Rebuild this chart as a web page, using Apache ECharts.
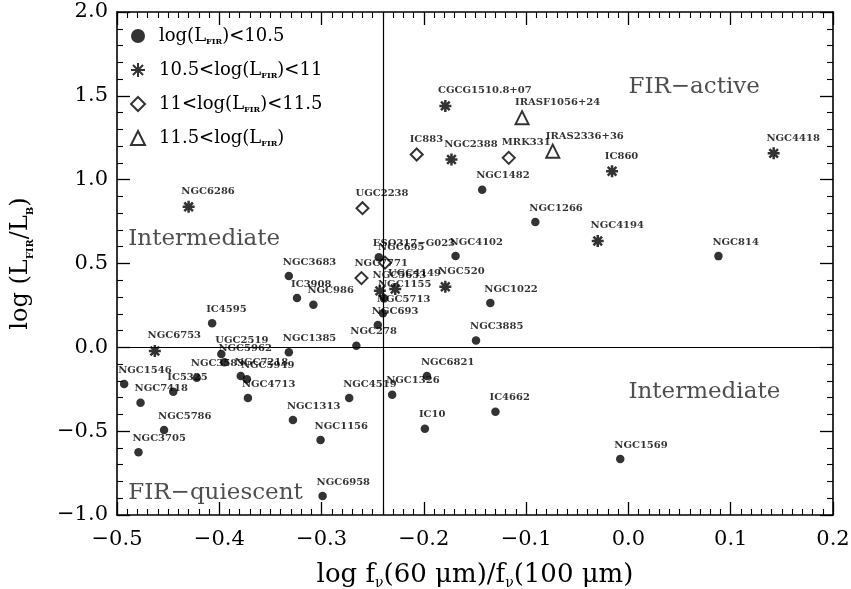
<!DOCTYPE html>
<html><head><meta charset="utf-8">
<script src="https://cdn.jsdelivr.net/npm/echarts@6/dist/echarts.min.js"></script>
<style>html,body{margin:0;padding:0;background:#fff}#c{width:851px;height:589px}</style>
</head><body><div id="c"></div>
<script>
// log(L_FIR) < 10.5  (filled dots)
const lowNames = ['NGC1482','NGC1266','NGC4102','NGC814','NGC3683','IC3908','NGC986','IC4595','ESO317\u2212G023','NGC1155','NGC5713','NGC693','NGC1022','NGC278','NGC3885','NGC1385','UGC2519','NGC5962','NGC3583','NGC7218','NGC5949','NGC4713','NGC1546','NGC7418','IC5325','NGC5786','NGC3705','NGC1313','NGC1156','NGC6958','NGC4519','NGC1326','NGC6821','IC10','IC4662','NGC1569'];
const lowX = [-0.143,-0.091,-0.169,0.088,-0.332,-0.324,-0.308,-0.407,-0.244,-0.239,-0.240,-0.245,-0.135,-0.266,-0.149,-0.332,-0.398,-0.395,-0.422,-0.379,-0.373,-0.372,-0.493,-0.477,-0.445,-0.454,-0.479,-0.328,-0.301,-0.299,-0.273,-0.231,-0.197,-0.199,-0.130,-0.008];
const lowY = [0.940,0.747,0.545,0.544,0.425,0.294,0.254,0.143,0.537,0.292,0.203,0.133,0.264,0.010,0.041,-0.030,-0.040,-0.089,-0.181,-0.171,-0.191,-0.302,-0.219,-0.330,-0.265,-0.493,-0.626,-0.434,-0.553,-0.887,-0.302,-0.283,-0.171,-0.485,-0.384,-0.666];
// 10.5 < log(L_FIR) < 11  (asterisks)
const midNames = ['CGCG1510.8+07','NGC2388','IC860','NGC4418','NGC4194','NGC6286','NGC6753','NGC520','NGC5653','UGC4149'];
const midX = [-0.179,-0.173,-0.016,0.142,-0.030,-0.430,-0.463,-0.179,-0.243,-0.228];
const midY = [1.440,1.120,1.050,1.157,0.634,0.838,-0.022,0.361,0.337,0.348];
// 11 < log(L_FIR) < 11.5  (open diamonds)
const hiNames = ['IC883','MRK331','UGC2238','NGC695','NGC7771'];
const hiX = [-0.207,-0.117,-0.260,-0.238,-0.261];
const hiY = [1.150,1.130,0.830,0.505,0.413];
// 11.5 < log(L_FIR)  (open triangles)
const topNames = ['IRASF1056+24','IRAS2336+36'];
const topX = [-0.104,-0.074];
const topY = [1.370,1.170];
// region annotations
const noteTexts = ['FIR\u2212active','Intermediate','Intermediate','FIR\u2212quiescent'];
const noteX = [0.000,-0.489,0.000,-0.489];
const noteY = [1.554,0.644,-0.265,-0.867];
// quadrant dividers
const divX = -0.24, divY = 0.0;
// legend labels
const legendNames = ['log(LFIR)<10.5','10.5<log(LFIR)<11','11<log(LFIR)<11.5','11.5<log(LFIR)'];
const legendRich = ['{p|log(L}{s|FIR}{a|)<10.5}','{p|10.5<log(L}{s|FIR}{a|)<11}','{p|11<log(L}{s|FIR}{a|)<11.5}','{p|11.5<log(L}{s|FIR}{a|)}'];

const SERIF = 'DejaVu Serif';
const zip = (n,x,y) => n.map((nm,i)=>({name:nm, value:[x[i],y[i]]}));
const ASTER = 'path://M0,-10L0,10M-10,0L10,0M-7.2,-7.2L7.2,7.2M-7.2,7.2L7.2,-7.2';
function ptLabel(s){
  return {show:true, formatter:p=>p.name, position:[s/2-6, s/2-14], align:'left', verticalAlign:'middle',
          fontFamily:SERIF, fontSize:10, fontWeight:'bold', color:'#000'};
}
const fmt = v => { const a = Math.abs(v).toFixed(1); return (v < -1e-9 ? '\u2212' : '') + a; };
const axisCommon = {
  axisLine:{show:true, onZero:false, lineStyle:{color:'#000', width:1.6}},
  axisTick:{show:true, inside:true, length:13, lineStyle:{color:'#000', width:1.3}},
  minorTick:{show:true, length:6, lineStyle:{color:'#000', width:1.1}},
  splitLine:{show:false}
};
const chart = echarts.init(document.getElementById('c'), null, {renderer:'canvas'});
chart.setOption({
  animation:false,
  backgroundColor:'#fff',
  grid:{left:117, right:18, top:12, bottom:74, containLabel:false, outerBoundsMode:'none'},
  legend:{
    orient:'vertical', left:130, top:27, padding:0, itemGap:15, itemWidth:14, itemHeight:14,
    data:legendNames, selectedMode:false,
    formatter: n => legendRich[legendNames.indexOf(n)],
    textStyle:{color:'#000', rich:{
      p:{fontFamily:SERIF, fontSize:18, color:'#000', lineHeight:20, padding:[0,0,0,9]},
      a:{fontFamily:SERIF, fontSize:18, color:'#000', lineHeight:20},
      s:{fontFamily:SERIF, fontSize:8, fontWeight:'bold', color:'#000', verticalAlign:'bottom', lineHeight:12}
    }}
  },
  xAxis:[
    Object.assign({type:'value', min:-0.5, max:0.2, interval:0.1, position:'bottom',
      axisLabel:{formatter:fmt, fontFamily:SERIF, fontSize:21, color:'#000', margin:14},
      name:'{a|log f}{s|\u03bd}{a|(60 \u03bcm)/f}{s|\u03bd}{a|(100 \u03bcm)}', nameLocation:'middle', nameGap:45,
      nameTextStyle:{rich:{a:{fontFamily:SERIF, fontSize:26, color:'#000', lineHeight:30},
                           s:{fontFamily:SERIF, fontSize:14, color:'#000', verticalAlign:'bottom', lineHeight:17}}}
    }, axisCommon, {minorTick:Object.assign({}, axisCommon.minorTick, {splitNumber:10})}),
    Object.assign({type:'value', min:-0.5, max:0.2, interval:0.1, position:'top', axisLabel:{show:false}},
      axisCommon, {minorTick:Object.assign({}, axisCommon.minorTick, {splitNumber:10})})
  ],
  yAxis:[
    Object.assign({type:'value', min:-1, max:2, interval:0.5, position:'left',
      axisLabel:{formatter:fmt, fontFamily:SERIF, fontSize:21, color:'#000', margin:9},
      name:'{a|log (L}{s|FIR}{a|/L}{s|B}{a|)}', nameLocation:'middle', nameGap:82, nameRotate:90,
      nameTextStyle:{rich:{a:{fontFamily:SERIF, fontSize:24, color:'#000', lineHeight:28},
                           s:{fontFamily:SERIF, fontSize:10, fontWeight:'bold', color:'#000', verticalAlign:'bottom', lineHeight:16}}}
    }, axisCommon, {minorTick:Object.assign({}, axisCommon.minorTick, {splitNumber:5})}),
    Object.assign({type:'value', min:-1, max:2, interval:0.5, position:'right', axisLabel:{show:false}},
      axisCommon, {minorTick:Object.assign({}, axisCommon.minorTick, {splitNumber:5})})
  ],
  series:[
    {name:legendNames[0], type:'scatter', symbol:'circle', symbolSize:8.5,
     itemStyle:{color:'#000'}, label:ptLabel(8.5), data:zip(lowNames,lowX,lowY), z:3,
     markLine:{silent:true, symbol:['none','none'], label:{show:false},
       lineStyle:{color:'#000', type:'solid', width:1.2},
       data:[{yAxis:divY},{xAxis:divX}]}},
    {name:legendNames[1], type:'scatter', symbol:ASTER, symbolSize:12,
     itemStyle:{color:'#000', borderColor:'#000', borderWidth:2.5}, label:ptLabel(12), data:zip(midNames,midX,midY), z:3},
    {name:legendNames[2], type:'scatter', symbol:'diamond', symbolSize:12,
     itemStyle:{color:'#fff', borderColor:'#000', borderWidth:2}, label:ptLabel(12), data:zip(hiNames,hiX,hiY), z:3},
    {name:legendNames[3], type:'scatter', symbol:'triangle', symbolSize:13,
     itemStyle:{color:'#fff', borderColor:'#000', borderWidth:2}, label:ptLabel(13), data:zip(topNames,topX,topY), z:3},
    {name:'notes', type:'scatter', symbolSize:0, silent:true,
     label:{show:true, formatter:p=>p.name, position:[0,0], align:'left', verticalAlign:'middle',
            fontFamily:SERIF, fontSize:23, color:'#222'},
     data:zip(noteTexts,noteX,noteY), z:2}
  ]
});
</script></body></html>
